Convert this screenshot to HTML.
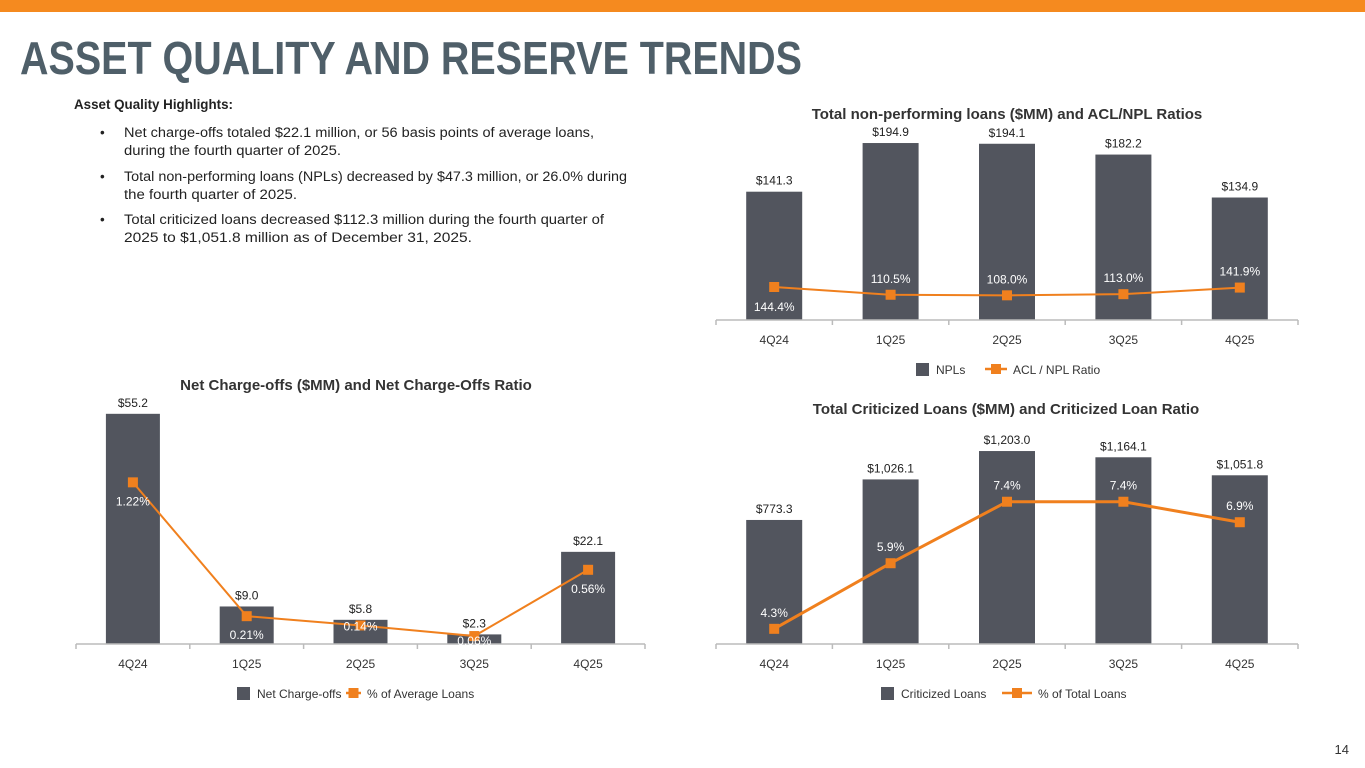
<!DOCTYPE html>
<html><head><meta charset="utf-8"><style>
body{margin:0;background:#fff;width:1365px;height:768px;overflow:hidden}
svg{display:block;font-family:"Liberation Sans",sans-serif}
</style></head><body>
<svg id="page" width="1365" height="768" viewBox="0 0 1365 768">
<rect x="0" y="0" width="1365" height="12" fill="#f58a1f"/>
<text x="20" y="74" font-size="46" font-weight="bold" fill="#4f5f69" textLength="782" lengthAdjust="spacingAndGlyphs">ASSET QUALITY AND RESERVE TRENDS</text>
<g font-size="13.5" fill="#222">
<text x="74" y="109" font-weight="bold" textLength="159" lengthAdjust="spacingAndGlyphs">Asset Quality Highlights:</text>
<text x="100" y="137">•</text>
<text x="124" y="137" textLength="470" lengthAdjust="spacingAndGlyphs">Net charge-offs totaled $22.1 million, or 56 basis points of average loans,</text>
<text x="124" y="155" textLength="217" lengthAdjust="spacingAndGlyphs">during the fourth quarter of 2025.</text>
<text x="100" y="181">•</text>
<text x="124" y="181" textLength="503" lengthAdjust="spacingAndGlyphs">Total non-performing loans (NPLs) decreased by $47.3 million, or 26.0% during</text>
<text x="124" y="199" textLength="173" lengthAdjust="spacingAndGlyphs">the fourth quarter of 2025.</text>
<text x="100" y="224">•</text>
<text x="124" y="224" textLength="480" lengthAdjust="spacingAndGlyphs">Total criticized loans decreased $112.3 million during the fourth quarter of</text>
<text x="124" y="242" textLength="348" lengthAdjust="spacingAndGlyphs">2025 to $1,051.8 million as of December 31, 2025.</text>
</g>
<text x="1349" y="754" font-size="13" fill="#333" text-anchor="end">14</text>
<g id="charts"></g>
</svg>
<script>
const categories = ['4Q24','1Q25','2Q25','3Q25','4Q25'];
const nplValues = [141.3,194.9,194.1,182.2,134.9];
const aclRatio = [144.4,110.5,108.0,113.0,141.9];
const ncoValues = [55.2,9.0,5.8,2.3,22.1];
const ncoRatio = [1.22,0.21,0.14,0.06,0.56];
const critValues = [773.3,1026.1,1203.0,1164.1,1051.8];
const critRatio = [4.3,5.9,7.4,7.4,6.9];
const nplLabels = ['$141.3','$194.9','$194.1','$182.2','$134.9'];
const aclLabels = ['144.4%','110.5%','108.0%','113.0%','141.9%'];
const ncoLabels = ['$55.2','$9.0','$5.8','$2.3','$22.1'];
const ncoRatioLabels = ['1.22%','0.21%','0.14%','0.06%','0.56%'];
const critLabels = ['$773.3','$1,026.1','$1,203.0','$1,164.1','$1,051.8'];
const critRatioLabels = ['4.3%','5.9%','7.4%','7.4%','6.9%'];

const NS='http://www.w3.org/2000/svg';
const root=document.getElementById('charts');
function mk(tag,attrs,parent,txt){const e=document.createElementNS(NS,tag);for(const k in attrs)e.setAttribute(k,attrs[k]);if(txt!==undefined)e.textContent=txt;(parent||root).appendChild(e);return e;}
const BAR='#52555e', OR='#f0801e';

function chart(o){
  const g=mk('g',{});
  
  
  const n=categories.length, step=(o.x1-o.x0)/n;
  const xc=i=>o.x0+step*(i+0.5);
  const yb=v=>o.base-v*o.bk;
  const yl=v=>o.base-(v-o.lmin)*o.lk;
  const t=mk('text',{x:o.tx,y:o.ty,'font-size':15,'font-weight':'bold',fill:'#333','text-anchor':'middle'},g,o.title);
  
  
  categories.forEach((c,i)=>{
    const r=mk('rect',{x:xc(i)-o.bw/2,y:yb(o.bars[i]),width:o.bw,height:o.bars[i]*o.bk,fill:BAR},g);
    
    
    const l=mk('text',{x:xc(i),y:yb(o.bars[i])-7,'font-size':12,fill:'#222','text-anchor':'middle'},g,o.barLabels[i]);
    
    
    const cl=mk('text',{x:xc(i),y:o.base+24,'font-size':12,fill:'#333','text-anchor':'middle'},g,c);
    
    
  });
  const ax=mk('line',{x1:o.x0,x2:o.x1,y1:o.base,y2:o.base,stroke:'#bbb','stroke-width':1.5},g);
  
  
  for(let i=0;i<=n;i++){const tk=mk('line',{x1:o.x0+step*i,x2:o.x0+step*i,y1:o.base,y2:o.base+5,stroke:'#bbb','stroke-width':1.5},g);
    
    }
  const pts=o.line.map((v,i)=>xc(i)+','+yl(v)).join(' ');
  const pl=mk('polyline',{points:pts,fill:'none',stroke:OR,'stroke-width':o.lw},g);
  
  
  o.line.forEach((v,i)=>{
    const m=mk('rect',{x:xc(i)-5,y:yl(v)-5,width:10,height:10,fill:OR},g);
    
    
    const dy=o.lineLabelDy(i);
    const l=mk('text',{x:xc(i),y:yl(v)+dy,'font-size':12,fill:'#fff','text-anchor':'middle'},g,o.lineLabels[i]);
    
    
  });
  const L=o.leg;
  const s=mk('rect',{x:L.sx,y:L.y-6,width:13,height:13,fill:BAR},g);
  
  
  const t1=mk('text',{x:L.sx+20,y:L.y+5,'font-size':12,fill:'#333'},g,o.legA);
  
  
  const ll=mk('line',{x1:L.lx,x2:L.lx+L.lw,y1:L.y,y2:L.y,stroke:OR,'stroke-width':2.5},g);
  
  
  const lm=mk('rect',{x:L.lx+L.lw/2-5,y:L.y-5,width:10,height:10,fill:OR},g);
  
  
  const t2=mk('text',{x:L.lx+L.lw+6,y:L.y+5,'font-size':12,fill:'#333'},g,o.legB);
  
  
}

chart({name:'npl-chart',title:'Total non-performing loans ($MM) and ACL/NPL Ratios',tx:1007,ty:119,
  x0:716,x1:1298,base:320,bk:0.908,bw:56,bars:nplValues,barLabels:nplLabels,
  line:aclRatio,lineLabels:aclLabels,lmin:0,lk:0.2285,lw:2,
  lineLabelDy:i=>i===0?24:-12,
  leg:{sx:916,y:369,lx:985,lw:22},legA:'NPLs',legB:'ACL / NPL Ratio'});
chart({name:'net-charge-offs-chart',title:'Net Charge-offs ($MM) and Net Charge-Offs Ratio',tx:356,ty:390,
  x0:76,x1:645,base:644,bk:4.17,bw:54,bars:ncoValues,barLabels:ncoLabels,
  line:ncoRatio,lineLabels:ncoRatioLabels,lmin:0,lk:132.5,lw:2,
  lineLabelDy:i=>i===2?5:(i===3?9:23),
  leg:{sx:237,y:693,lx:346,lw:15},legA:'Net Charge-offs',legB:'% of Average Loans'});
chart({name:'criticized-loans-chart',title:'Total Criticized Loans ($MM) and Criticized Loan Ratio',tx:1006,ty:414,
  x0:716,x1:1298,base:644,bk:0.1604,bw:56,bars:critValues,barLabels:critLabels,
  line:critRatio,lineLabels:critRatioLabels,lmin:3.93,lk:41,lw:3,
  lineLabelDy:i=>-12,
  leg:{sx:881,y:693,lx:1002,lw:30},legA:'Criticized Loans',legB:'% of Total Loans'});
</script>
</body></html>
